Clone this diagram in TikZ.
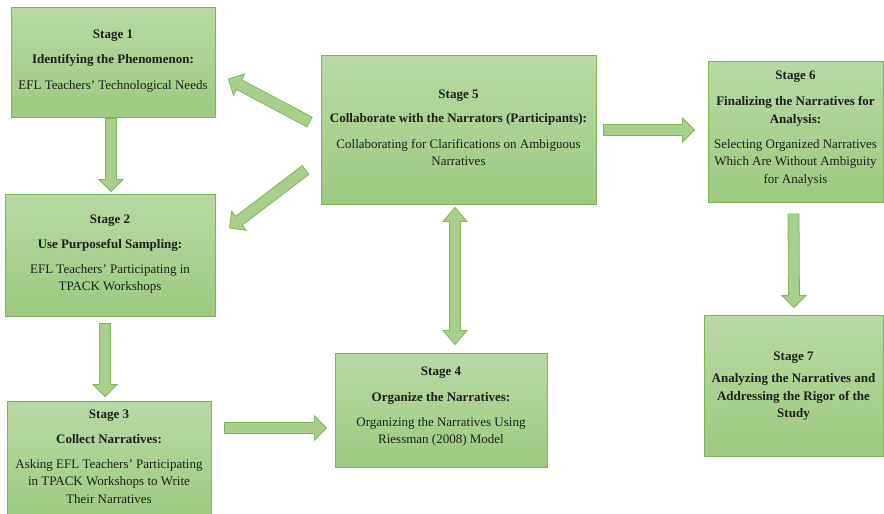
\documentclass[tikz,border=0pt]{standalone}
\usepackage{fontspec}
\setmainfont{Liberation Serif}
\usetikzlibrary{calc}
\definecolor{boxtop}{RGB}{184,217,164}
\definecolor{boxbot}{RGB}{158,202,128}
\definecolor{boxline}{RGB}{124,180,90}
\definecolor{arrfill}{RGB}{168,208,140}
\definecolor{arrline}{RGB}{126,182,92}
\definecolor{txt}{RGB}{30,30,30}
\tikzset{
  stagebox/.style={rectangle, draw=boxline, line width=0.9pt, top color=boxtop, bottom color=boxbot, inner sep=0pt},
  stagetext/.style={align=center, text=txt, inner sep=0pt, font=\fontsize{13}{17.5}\selectfont},
  barrow/.style={draw=arrline, fill=arrfill, line width=0.8pt, line join=miter},
}
\newcommand\blockarr[2]{%
  \coordinate (bh) at ($(#2)!12pt!(#1)$);
  \draw[barrow] ($(#1)!5.5pt!90:(#2)$) -- ($(bh)!5.5pt!90:(#2)$) -- ($(bh)!12pt!90:(#2)$) -- (#2)
    -- ($(bh)!12pt!-90:(#2)$) -- ($(bh)!5.5pt!-90:(#2)$) -- ($(#1)!5.5pt!-90:(#2)$) -- cycle;}
\newcommand\dblockarr[2]{%
  \coordinate (bha) at ($(#1)!14pt!(#2)$);
  \coordinate (bhb) at ($(#2)!14pt!(#1)$);
  \draw[barrow] (#1) -- ($(bha)!12pt!90:(#2)$) -- ($(bha)!5.5pt!90:(#2)$) -- ($(bhb)!5.5pt!-90:(#1)$)
    -- ($(bhb)!12pt!-90:(#1)$) -- (#2) -- ($(bhb)!12pt!90:(#1)$) -- ($(bhb)!5.5pt!90:(#1)$)
    -- ($(bha)!5.5pt!-90:(#2)$) -- ($(bha)!12pt!-90:(#2)$) -- cycle;}
\begin{document}
\begin{tikzpicture}[x=1pt, y=-1pt]
\useasboundingbox (0,0) rectangle (884,514);
\fill[white] (0,0) rectangle (884,514);
% boxes
\node[stagebox, minimum width=204pt, minimum height=110pt] (s1) at (113,62) {};
\node[stagebox, minimum width=210pt, minimum height=122pt] (s2) at (110,255) {};
\node[stagebox, minimum width=204pt, minimum height=122pt] (s3) at (109,462) {};
\node[stagebox, minimum width=212pt, minimum height=114pt] (s4) at (441,410) {};
\node[stagebox, minimum width=275pt, minimum height=149pt] (s5) at (458.5,129.5) {};
\node[stagebox, minimum width=175pt, minimum height=141pt] (s6) at (795.5,131.5) {};
\node[stagebox, minimum width=179pt, minimum height=141pt] (s7) at (793.5,385.5) {};
% texts
\node[stagetext] (s1t) at ($(s1.center)+(0,-1)$) {\textbf{Stage 1}\\[8pt]\textbf{Identifying the Phenomenon:}\\[8pt]EFL Teachers’ Technological Needs};
\node[stagetext] (s2t) at ($(s2.center)+(0,-1)$) {\textbf{Stage 2}\\[7.5pt]\textbf{Use Purposeful Sampling:}\\[7.5pt]EFL Teachers’ Participating in\\TPACK Workshops};
\node[stagetext] (s3t) at ($(s3.center)+(0,-5.5)$) {\textbf{Stage 3}\\[7.5pt]\textbf{Collect Narratives:}\\[7.5pt]Asking EFL Teachers’ Participating\\in TPACK Workshops to Write\\Their Narratives};
\node[stagetext] (s4t) at ($(s4.center)+(0,-3)$) {\textbf{Stage 4}\\[8pt]\textbf{Organize the Narratives:}\\[7.5pt]Organizing the Narratives Using\\Riessman (2008) Model};
\node[stagetext] (s5t) at ($(s5.center)+(0,-1.5)$) {\textbf{Stage 5}\\[6.5pt]\textbf{Collaborate with the Narrators (Participants):}\\[8.5pt]Collaborating for Clarifications on Ambiguous\\Narratives};
\node[stagetext] (s6t) at ($(s6.center)+(0,-3)$) {\textbf{Stage 6}\\[9pt]\textbf{Finalizing the Narratives for}\\\textbf{Analysis:}\\[7.5pt]Selecting Organized Narratives\\Which Are Without Ambiguity\\for Analysis};
\node[stagetext] (s7t) at ($(s7.center)+(0,0.5)$) {\textbf{Stage 7}\\[5pt]\textbf{Analyzing the Narratives and}\\\textbf{Addressing the Rigor of the}\\\textbf{Study}};
% arrow end points
\coordinate (a12t) at ($(s1.south)+(-2,1)$);
\coordinate (a12h) at ($(s2.north)+(1,-2)$);
\coordinate (a23t) at ($(s2.south)+(-5,7)$);
\coordinate (a23h) at ($(s3.north)+(-4,-4)$);
\coordinate (a34t) at ($(s3.east)+(13,-34)$);
\coordinate (a34h) at ($(s4.west)+(-8,18)$);
\coordinate (a45a) at ($(s5.south)+(-3.5,3)$);
\coordinate (a45b) at ($(s4.north)+(14,-8)$);
\coordinate (a51t) at ($(s5.west)+(-11,-7.5)$);
\coordinate (a51h) at ($(s1.east)+(13,17)$);
\coordinate (a52t) at ($(s5.west)+(-15,40.5)$);
\coordinate (a52h) at ($(s2.east)+(14,-27)$);
\coordinate (a56t) at ($(s5.east)+(7,0.5)$);
\coordinate (a56h) at ($(s6.west)+(-13,-1.5)$);
\coordinate (a67t) at ($(s6.south)+(-2,11.5)$);
\coordinate (a67h) at ($(s7.north)+(0.5,-7)$);
% arrows
\blockarr{a12t}{a12h}
\blockarr{a23t}{a23h}
\blockarr{a34t}{a34h}
\dblockarr{a45a}{a45b}
\blockarr{a51t}{a51h}
\blockarr{a52t}{a52h}
\blockarr{a56t}{a56h}
\blockarr{a67t}{a67h}
\end{tikzpicture}
\end{document}
